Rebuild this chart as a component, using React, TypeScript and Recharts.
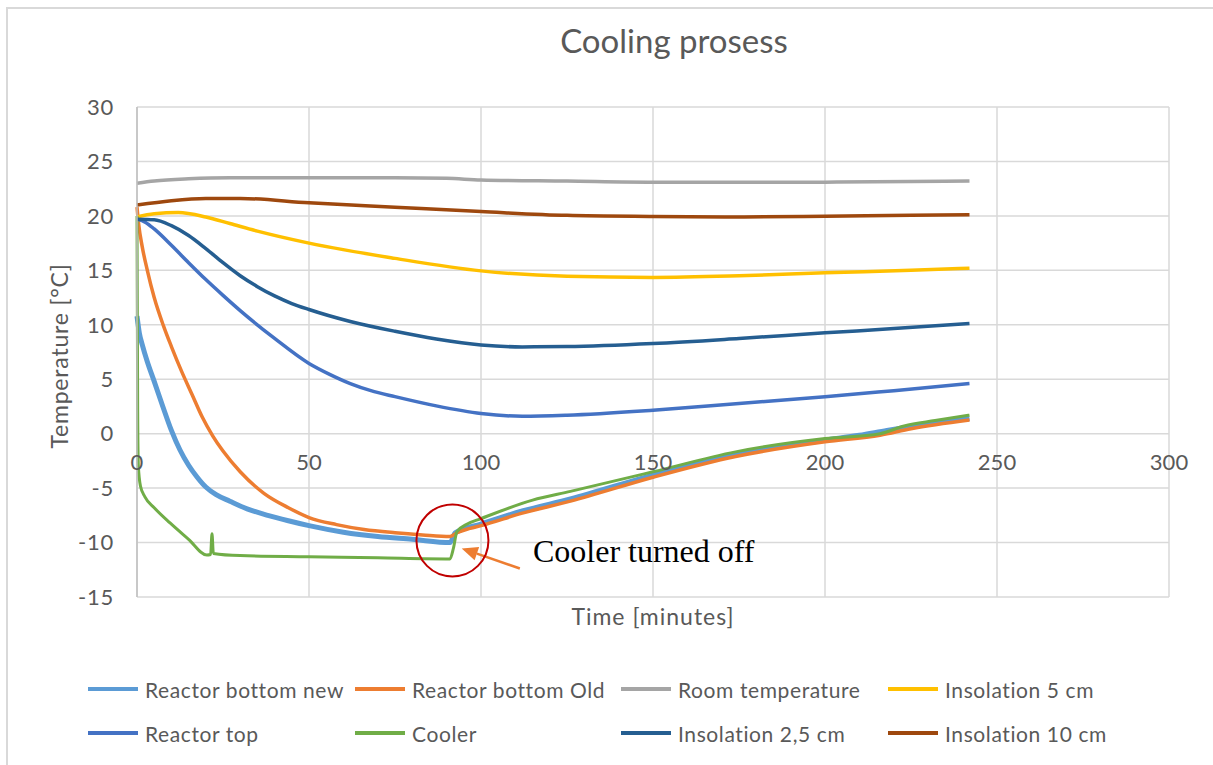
import React from "react";
import { CartesianGrid, Line, LineChart, ReferenceDot, ReferenceLine, XAxis, YAxis } from "recharts";

// [minutes, °C]
const reactorBottomNew = [
  [0, 10.8], [0.7, 9.2], [1.5, 8.2], [3, 6.6], [5, 4.8], [7.5, 2.5], [10, 0.3], [12.5, -1.5], [15, -2.9],
  [17.5, -4.0], [20, -4.9], [23, -5.6], [27, -6.2], [32, -6.9], [38, -7.5], [44, -8.0], [50, -8.45],
  [60, -9.05], [70, -9.45], [80, -9.7], [91, -10.0], [92.5, -9.1], [100, -8.3], [112, -7.1], [126, -6.0],
  [150, -3.8], [174, -1.9], [200, -0.6], [210, -0.15], [218, 0.3], [228, 0.8], [242, 1.4],
];
const reactorBottomOld = [
  [0, 20.8], [0.5, 19.2], [1.5, 17.2], [3, 15.0], [5, 12.5], [7.7, 9.9], [10, 8.0], [13, 5.7], [16, 3.6],
  [19, 1.5], [22, -0.2], [25, -1.6], [30, -3.5], [37, -5.5], [44, -6.8], [50, -7.7], [58, -8.35],
  [66, -8.8], [75, -9.1], [83, -9.3], [91, -9.45], [93, -9.1], [96.8, -8.7], [100, -8.45], [112, -7.3],
  [126, -6.2], [150, -4.0], [174, -2.1], [200, -0.75], [216, -0.14], [225, 0.45], [242, 1.25],
];
const roomTemperature = [
  [0, 23.0], [5, 23.2], [15, 23.4], [27, 23.5], [50, 23.5], [75, 23.5], [90, 23.45], [100, 23.3],
  [125, 23.2], [150, 23.1], [175, 23.1], [200, 23.1], [225, 23.15], [242, 23.2],
];
const insolation5 = [
  [0, 19.9], [5, 20.2], [12, 20.3], [20, 19.9], [27, 19.3], [35, 18.6], [50, 17.5], [75, 16.1],
  [100, 14.95], [125, 14.45], [150, 14.35], [175, 14.5], [200, 14.77], [225, 15.0], [242, 15.2],
];
const reactorTop = [
  [0, 19.7], [2.5, 19.4], [5, 18.8], [10, 17.3], [15, 15.7], [20, 14.15], [25, 12.7], [30, 11.3],
  [40, 8.75], [50, 6.45], [56, 5.45], [62, 4.6], [68, 3.95], [75, 3.4], [87, 2.55], [100, 1.85],
  [112, 1.6], [125, 1.7], [150, 2.16], [175, 2.77], [200, 3.38], [220, 3.95], [242, 4.6],
];
const cooler = [
  [0, 20.0], [0.2, 2], [0.4, -3.0], [1, -4.8], [2.3, -5.8], [5, -6.8], [9.6, -8.2], [15, -9.7],
  [20.3, -11.15], [21.4, -11.1], [21.8, -9.2], [22.2, -11.0], [30, -11.2], [50, -11.3], [70, -11.4],
  [91, -11.5], [92, -10.5], [93, -9.0], [96, -8.3], [100, -7.8], [115, -6.1], [126, -5.3], [150, -3.5],
  [174, -1.67], [200, -0.45], [216, 0.0], [223, 0.7], [232, 1.2], [242, 1.7],
];
const insolation25 = [
  [0, 19.7], [5, 19.65], [10, 19.1], [15, 18.2], [20, 17.0], [25, 15.7], [30, 14.5], [35, 13.5],
  [40, 12.65], [45, 11.95], [50, 11.4], [62, 10.3], [75, 9.4], [87, 8.7], [100, 8.15], [112, 7.97],
  [125, 8.0], [150, 8.28], [175, 8.74], [200, 9.26], [220, 9.65], [242, 10.12],
];
const insolation10 = [
  [0, 21.0], [10, 21.4], [20, 21.6], [30, 21.6], [50, 21.2], [75, 20.8], [100, 20.4], [125, 20.05],
  [150, 19.95], [175, 19.9], [200, 19.97], [225, 20.05], [242, 20.1],
];

const xTicks = [0, 50, 100, 150, 200, 250, 300];
const yTicks = [-15, -10, -5, 0, 5, 10, 15, 20, 25, 30];

const series = [
  { name: "Reactor bottom new", color: "#5B9BD5", width: 5, points: reactorBottomNew },
  { name: "Reactor bottom Old", color: "#ED7D31", width: 3.5, points: reactorBottomOld },
  { name: "Room temperature", color: "#A5A5A5", width: 3.5, points: roomTemperature },
  { name: "Insolation 5 cm", color: "#FFC000", width: 3.5, points: insolation5 },
  { name: "Reactor top", color: "#4472C4", width: 3.5, points: reactorTop },
  { name: "Cooler", color: "#70AD47", width: 3, points: cooler },
  { name: "Insolation 2,5 cm", color: "#255E91", width: 3.5, points: insolation25 },
  { name: "Insolation 10 cm", color: "#9E480E", width: 3.5, points: insolation10 },
];

const FONT = "Lato, 'Noto Sans', sans-serif";
const TEXT = "#595959";
const W = 1213;
const H = 765;
const MARGIN = { top: 107, right: 44, left: 77, bottom: 138 };
const Y_AXIS_W = 60;
const X_AXIS_H = 30;
const PLOT_H = H - MARGIN.top - MARGIN.bottom - X_AXIS_H;
const Y_MIN = -15;
const Y_MAX = 30;

// Excel puts the category labels under the 0 line, not under the plot
function XTick(props: any) {
  const zeroY = props.y - (PLOT_H * (0 - Y_MIN)) / (Y_MAX - Y_MIN);
  return (
    <text x={props.x} y={zeroY + 36} textAnchor="middle" fill={TEXT} fontSize={22} fontFamily={FONT}>
      {props.payload.value}
    </text>
  );
}

function Arrow(p: any) {
  const dx = p.x2 - p.x1;
  const dy = p.y2 - p.y1;
  const len = Math.sqrt(dx * dx + dy * dy);
  const ux = dx / len;
  const uy = dy / len;
  const hl = 16;
  const hw = 7;
  const bx = p.x2 - ux * hl;
  const by = p.y2 - uy * hl;
  return (
    <g>
      <line x1={p.x1} y1={p.y1} x2={bx} y2={by} stroke="#ED7D31" strokeWidth={2.5} />
      <polygon
        points={`${p.x2},${p.y2} ${bx - uy * hw},${by + ux * hw} ${bx + uy * hw},${by - ux * hw}`}
        fill="#ED7D31"
      />
    </g>
  );
}

export default function App() {
  return (
    <div style={{ position: "absolute", left: 0, top: 0, width: W, height: H, overflow: "hidden", background: "#fff", fontFamily: FONT }}>
      <div style={{ position: "absolute", left: 6, top: 7, width: 1260, height: 820, border: "2px solid #D9D9D9" }} />
      <div style={{ position: "absolute", left: 674, top: 22, transform: "translateX(-50%)", fontSize: 33, color: TEXT, whiteSpace: "nowrap", lineHeight: "36px" }}>
        Cooling prosess
      </div>
      <div style={{ position: "absolute", left: 0, top: 0 }}>
        <LineChart width={W} height={H} margin={MARGIN}>
          <CartesianGrid stroke="#D9D9D9" strokeWidth={1.5} />
          <XAxis
            type="number"
            dataKey="t"
            domain={[0, 300]}
            ticks={xTicks}
            height={X_AXIS_H}
            axisLine={false}
            tickLine={false}
            tickSize={0}
            tickMargin={0}
            tick={<XTick />}
            label={{
              content: (p: any) => (
                <text x={p.viewBox.x + p.viewBox.width / 2} y={p.viewBox.y + 28} textAnchor="middle" fill={TEXT} fontSize={23} letterSpacing={1} fontFamily={FONT}>
                  Time [minutes]
                </text>
              ),
            }}
          />
          <YAxis
            type="number"
            domain={[Y_MIN, Y_MAX]}
            ticks={yTicks}
            width={Y_AXIS_W}
            tickLine={false}
            tickSize={0}
            tickMargin={23}
            axisLine={{ stroke: "#BFBFBF", strokeWidth: 1.5 }}
            tick={{ fill: TEXT, fontSize: 22, fontFamily: FONT, letterSpacing: 0.8 }}
            label={{
              content: (p: any) => {
                const cx = p.viewBox.x - 18;
                const cy = p.viewBox.y + p.viewBox.height / 2 + 4;
                return (
                  <text x={cx} y={cy} transform={`rotate(-90 ${cx} ${cy})`} textAnchor="middle" dominantBaseline="central" fill={TEXT} fontSize={23} letterSpacing={0.8} fontFamily={FONT}>
                    Temperature [°C]
                  </text>
                );
              },
            }}
          />
          {series.map((s) => (
            <Line
              key={s.name}
              name={s.name}
              data={s.points.map(([t, v]) => ({ t, v }))}
              dataKey="v"
              type="monotone"
              stroke={s.color}
              strokeWidth={s.width}
              dot={false}
              activeDot={false}
              isAnimationActive={false}
            />
          ))}
          <ReferenceDot x={91.7} y={-9.8} r={36} fill="none" stroke="#C00000" strokeWidth={2} />
          <ReferenceLine segment={[{ x: 111.3, y: -12.38 }, { x: 94.4, y: -10.54 }]} shape={<Arrow />} />
          <ReferenceDot
            x={115.1}
            y={-11.77}
            r={0}
            shape={(p: any) => (
              <text x={p.cx} y={p.cy} fontFamily="'Liberation Serif', 'Times New Roman', serif" fontSize={32} fill="#000">
                Cooler turned off
              </text>
            )}
          />
        </LineChart>
      </div>
      {series.map((s, i) => {
        const col = i % 4;
        const row = Math.floor(i / 4);
        const left = [88, 355, 621, 888][col];
        const top = [689, 733][row];
        return (
          <div key={s.name} style={{ position: "absolute", left, top: top - 14, height: 28, display: "flex", alignItems: "center", whiteSpace: "nowrap" }}>
            <div style={{ width: 50, height: 4, background: s.color, marginRight: 7 }} />
            <span style={{ fontSize: 21, color: TEXT, letterSpacing: 0.6 }}>{s.name}</span>
          </div>
        );
      })}
    </div>
  );
}
